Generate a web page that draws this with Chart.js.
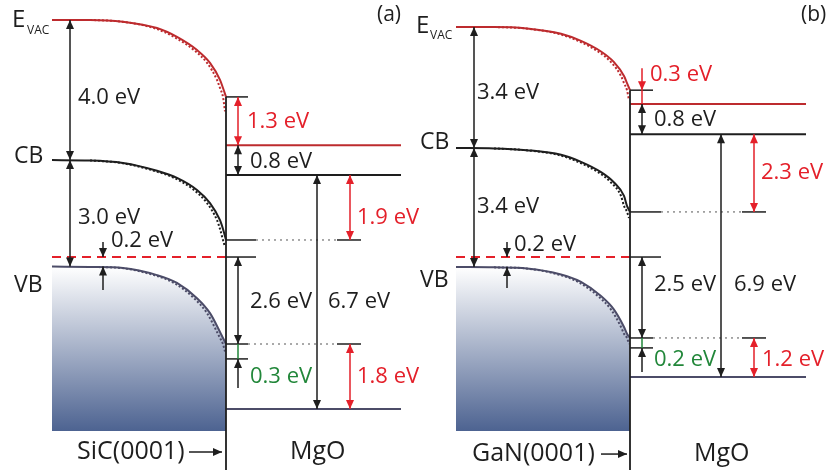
<!DOCTYPE html>
<html>
<head>
<meta charset="utf-8">
<script src="https://cdn.jsdelivr.net/npm/chart.js@4.4.1/dist/chart.umd.min.js"></script>
<style>
    html, body { margin: 0; padding: 0; background: #fff; }
    #wrap { position: relative; width: 828px; height: 475px; }
    canvas { position: absolute; top: 0; }
    #panelA { left: 0; }
    #panelB { left: 414px; }
</style>
</head>
<body>
<div id="wrap">
    <canvas id="panelA" width="430" height="475"></canvas>
    <canvas id="panelB" width="414" height="475"></canvas>
</div>
<script>
// energies in eV, Fermi level = 0

// (a) SiC(0001) / MgO
const bendXA   = [52, 90, 123, 157, 177, 197, 210, 220, 223, 226];
const evacA    = [6.68, 6.68, 6.63, 6.45, 6.20, 5.83, 5.47, 4.99, 4.76, 4.51];
const cbA      = [2.73, 2.72, 2.65, 2.43, 2.23, 1.89, 1.52, 1.04, 0.79, 0.48];
const vbA      = [-0.27, -0.28, -0.31, -0.51, -0.73, -1.16, -1.58, -2.11, -2.28, -2.45];
const dotXA    = [90, 121, 154, 174, 194, 207, 217, 220, 223, 225];
const evacDotA = [6.68, 6.63, 6.45, 6.20, 5.83, 5.47, 4.99, 4.76, 4.51, 4.10];
const cbDotA   = [2.72, 2.65, 2.43, 2.23, 1.89, 1.52, 1.04, 0.79, 0.48, 0.28];
const vbDotA   = [-0.28, -0.31, -0.51, -0.73, -1.16, -1.58, -2.11, -2.28, -2.45, -2.66];
const mgoA     = [3.15, 2.31, -4.28];   // MgO vacuum level, CB, VB
const stepA    = -2.87;                 // bottom of the green step
const gapsA    = ['4.0 eV', '3.0 eV', '0.2 eV', '1.3 eV', '0.8 eV', '1.9 eV', '2.6 eV', '6.7 eV', '0.3 eV', '1.8 eV'];

// (b) GaN(0001) / MgO
const bendXB   = [42, 80, 113, 147, 167, 187, 200, 210, 213, 216];
const evacB    = [6.48, 6.48, 6.44, 6.29, 6.09, 5.79, 5.49, 5.10, 4.90, 4.70];
const cbB      = [3.07, 3.06, 3.01, 2.88, 2.68, 2.39, 2.10, 1.72, 1.44, 1.27];
const vbB      = [-0.28, -0.29, -0.32, -0.49, -0.70, -1.10, -1.48, -1.97, -2.16, -2.28];
const dotXB    = [80, 111, 144, 164, 184, 197, 207, 210, 213, 215];
const evacDotB = [6.48, 6.44, 6.29, 6.09, 5.79, 5.49, 5.10, 4.90, 4.70, 4.42];
const cbDotB   = [3.06, 3.01, 2.88, 2.68, 2.39, 2.10, 1.72, 1.44, 1.27, 1.10];
const vbDotB   = [-0.29, -0.32, -0.49, -0.70, -1.10, -1.48, -1.97, -2.16, -2.28, -2.45];
const mgoB     = [4.31, 3.46, -3.38];
const stepB    = -2.56;
const gapsB    = ['3.4 eV', '3.4 eV', '0.2 eV', '0.3 eV', '0.8 eV', '2.3 eV', '2.5 eV', '6.9 eV', '0.2 eV', '1.2 eV'];

const substrates = ['SiC(0001)', 'GaN(0001)'];
const tags = ['(a)', '(b)'];

// ---- style ----
const E_TOP = 7.24, E_BOTTOM = -6.14;
const DARK_RED = '#bd2b2e', RED = '#e4202a', BLACK = '#1e1e1e', SLATE = '#4c4c68', GREEN = '#22873a', GRAY = '#555';
const FONT = '"Open Sans", "DejaVu Sans", sans-serif';
const gapColors = [BLACK, BLACK, BLACK, RED, BLACK, RED, BLACK, BLACK, GREEN, RED];

function seg(x0, e0, x1, e1, color, width, extra) {
    return Object.assign({
        data: [{ x: x0, y: e0 }, { x: x1, y: e1 }],
        borderColor: color, borderWidth: width, borderCapStyle: 'butt',
        pointRadius: 0, fill: false, clip: false
    }, extra);
}

function curve(xs, es, color, width, extra) {
    return Object.assign({
        data: xs.map((x, i) => ({ x: x, y: es[i] })),
        borderColor: color, borderWidth: width,
        pointRadius: 0, fill: false, clip: false, cubicInterpolationMode: 'monotone'
    }, extra);
}

function arrow(x0, e0, x1, e1, color, heads) {
    return seg(x0, e0, x1, e1, color, 1.5, { arrowHeads: heads });
}

// filled heads at the ends of datasets flagged with arrowHeads
const arrowHeads = {
    id: 'arrowHeads',
    afterDatasetsDraw(chart) {
        const c = chart.ctx;
        chart.data.datasets.forEach((ds, i) => {
            if (!ds.arrowHeads) return;
            const pts = chart.getDatasetMeta(i).data;
            const a = pts[0], b = pts[pts.length - 1];
            const head = (tip, from) => {
                const ang = Math.atan2(tip.y - from.y, tip.x - from.x);
                c.save();
                c.translate(tip.x, tip.y);
                c.rotate(ang);
                c.beginPath();
                c.moveTo(0, 0);
                c.lineTo(-9, -4);
                c.lineTo(-9, 4);
                c.closePath();
                c.fillStyle = ds.borderColor;
                c.fill();
                c.restore();
            };
            if (ds.arrowHeads !== 'start') head(b, a);
            if (ds.arrowHeads !== 'end') head(a, b);
        });
    }
};

const textLabels = {
    id: 'textLabels',
    afterDatasetsDraw(chart, args, opts) {
        const c = chart.ctx, sx = chart.scales.x, sy = chart.scales.y;
        c.save();
        c.textAlign = 'left';
        c.textBaseline = 'middle';
        (opts.items || []).forEach(t => {
            c.font = (t.size || 22) + 'px ' + FONT;
            c.fillStyle = t.color || BLACK;
            c.fillText(t.text, sx.getPixelForValue(t.x), sy.getPixelForValue(t.e));
        });
        c.restore();
    }
};

function makePanel(id, P, L) {
    const n = P.evac.length - 1;
    const evacS = P.evac[n], cbS = P.cb[n], vbS = P.vb[n];
    const vacM = P.mgo[0], cbM = P.mgo[1], vbM = P.mgo[2];
    const dots = { borderDash: [2, 2] };
    const ds = [];   // bottom to top

    // valence band with the shaded bulk below it
    ds.push(curve(P.x, P.vb, SLATE, 2, {
        fill: { value: L.fillBottom },
        backgroundColor: (ctx) => {
            const chart = ctx.chart, sy = chart.scales.y;
            if (!sy) return 'rgba(77,99,145,0.5)';
            const y0 = sy.getPixelForValue(P.vb[0]), y1 = sy.getPixelForValue(L.fillBottom);
            if (!isFinite(y0) || !isFinite(y1)) return 'rgba(77,99,145,0.5)';
            const g = chart.ctx.createLinearGradient(0, y0, 0, y1);
            g.addColorStop(0, '#ffffff');
            g.addColorStop(1, '#4d6391');
            return g;
        }
    }));
    ds.push(curve(P.dotX, P.vbDot, SLATE, 2, dots));
    ds.push(curve(P.x, P.evac, DARK_RED, 2));
    ds.push(curve(P.dotX, P.evacDot, DARK_RED, 2, dots));
    ds.push(curve(P.x, P.cb, BLACK, 2));
    ds.push(curve(P.dotX, P.cbDot, BLACK, 2, dots));

    // Fermi level
    ds.push(seg(L.x0, 0, L.xi, 0, RED, 2, { borderDash: [9, 6] }));

    // MgO levels
    ds.push(seg(L.xi, vacM, L.xe, vacM, DARK_RED, 2));
    ds.push(seg(L.xi, cbM, L.xe, cbM, BLACK, 2));
    ds.push(seg(L.xi, vbM, L.xe, vbM, SLATE, 2));

    // short ticks at the interface
    ds.push(seg(L.xi, evacS, L.tickS, evacS, BLACK, 1.5));
    ds.push(seg(L.xi, 0, L.tickL, 0, BLACK, 1.5));
    ds.push(seg(L.xi, cbS, L.tickL, cbS, BLACK, 1.5));
    ds.push(seg(L.tickL, cbS, L.dotS, cbS, GRAY, 1, { borderDash: [2, 4] }));
    ds.push(seg(L.dotS, cbS, L.dotE, cbS, BLACK, 1.5));
    ds.push(seg(L.xi, vbS, L.tickS, vbS, BLACK, 1.5));
    ds.push(seg(L.tickS, vbS, L.dotS, vbS, GRAY, 1, { borderDash: [2, 4] }));
    ds.push(seg(L.dotS, vbS, L.dotE, vbS, BLACK, 1.5));
    ds.push(seg(L.xi, P.step, L.tickS, P.step, BLACK, 1.5));
    ds.push(seg(L.xIf, vbS, L.xIf, P.step, GREEN, 1.5));

    // interface
    ds.push(seg(L.xi, evacS, L.xi, L.ifBottom, BLACK, 1.8));

    // arrows
    ds.push(arrow(L.xBig, P.evac[0], L.xBig, P.cb[0], BLACK, 'both'));
    ds.push(arrow(L.xBig, P.cb[0], L.xBig, P.vb[0], BLACK, 'both'));
    ds.push(arrow(L.xSmall, L.stubTop, L.xSmall, 0, BLACK, 'end'));
    ds.push(arrow(L.xSmall, L.stubBottom, L.xSmall, P.vb[0], BLACK, 'end'));
    if (L.vacTail !== undefined) {
        ds.push(arrow(L.xIf, L.vacTail, L.xIf, evacS, RED, 'end'));
        ds.push(seg(L.xIf, evacS, L.xIf, vacM, RED, 1.5));
    } else {
        ds.push(arrow(L.xIf, evacS, L.xIf, vacM, RED, 'both'));
    }
    ds.push(arrow(L.xIf, vacM, L.xIf, cbM, BLACK, 'both'));
    ds.push(arrow(L.xRed, cbM, L.xRed, cbS, RED, 'both'));
    ds.push(arrow(L.xIf, 0, L.xIf, vbS, BLACK, 'both'));
    ds.push(arrow(L.xGap, cbM, L.xGap, vbM, BLACK, 'both'));
    ds.push(arrow(L.xIf, L.upTail, L.xIf, P.step, BLACK, 'end'));
    ds.push(arrow(L.xRed, vbS, L.xRed, vbM, RED, 'both'));
    ds.push(arrow(L.subArrow[0], L.bottomRow, L.subArrow[1], L.bottomRow, BLACK, 'end'));

    const items = P.gaps.map((t, i) => ({ text: t, x: L.gapPos[i][0], e: L.gapPos[i][1], color: gapColors[i] }));
    items.push({ text: 'E', x: L.eLabel[0], e: L.eLabel[1], size: 24 });
    items.push({ text: 'VAC', x: L.vacLabel[0], e: L.vacLabel[1], size: 12 });
    items.push({ text: 'CB', x: L.cbLabel[0], e: L.cbLabel[1], size: 23 });
    items.push({ text: 'VB', x: L.vbLabel[0], e: L.vbLabel[1], size: 23 });
    items.push({ text: P.substrate, x: L.subX, e: L.bottomRow, size: 25 });
    items.push({ text: 'MgO', x: L.mgoX, e: L.bottomRow, size: 25 });
    items.push({ text: P.tag, x: L.tagX, e: 6.82, size: 21 });

    new Chart(document.getElementById(id), {
        type: 'line',
        data: { datasets: ds.reverse() },
        options: {
            responsive: false,
            animation: false,
            events: [],
            layout: { padding: 0 },
            scales: {
                x: { type: 'linear', min: 0, max: L.width, display: false },
                y: { type: 'linear', min: E_BOTTOM, max: E_TOP, display: false }
            },
            plugins: {
                legend: { display: false },
                tooltip: { enabled: false },
                textLabels: { items: items }
            }
        },
        plugins: [arrowHeads, textLabels]
    });
}

makePanel('panelA', {
    x: bendXA, evac: evacA, cb: cbA, vb: vbA,
    dotX: dotXA, evacDot: evacDotA, cbDot: cbDotA, vbDot: vbDotA,
    mgo: mgoA, step: stepA, gaps: gapsA, substrate: substrates[0], tag: tags[0]
}, {
    width: 430,
    x0: 52, xi: 226, xe: 401, xBig: 70, xSmall: 103, xIf: 238, xGap: 317, xRed: 350,
    tickS: 248, tickL: 256, dotS: 337, dotE: 361,
    fillBottom: -4.90, ifBottom: -6.0, stubTop: 0.42, stubBottom: -0.93, upTail: -3.69,
    gapPos: [[78, 4.48], [78, 1.10], [111, 0.45], [247, 3.80], [250, 2.68], [357, 1.10],
             [250, -1.27], [328, -1.27], [250, -3.38], [357, -3.38]],
    eLabel: [12, 6.66], vacLabel: [27, 6.39], cbLabel: [14, 2.82], vbLabel: [14, -0.79],
    subX: 77, subArrow: [189, 222], mgoX: 290, bottomRow: -5.49, tagX: 377
});

makePanel('panelB', {
    x: bendXB, evac: evacB, cb: cbB, vb: vbB,
    dotX: dotXB, evacDot: evacDotB, cbDot: cbDotB, vbDot: vbDotB,
    mgo: mgoB, step: stepB, gaps: gapsB, substrate: substrates[1], tag: tags[1]
}, {
    width: 414,
    x0: 42, xi: 216, xe: 392, xBig: 60, xSmall: 93, xIf: 228, xGap: 307, xRed: 340,
    tickS: 239, tickL: 247, dotS: 328, dotE: 352, vacTail: 5.32,
    fillBottom: -4.90, ifBottom: -6.0, stubTop: 0.42, stubBottom: -0.87, upTail: -3.24,
    gapPos: [[63, 4.62], [63, 1.41], [100, 0.34], [236, 5.13], [240, 3.86], [347, 2.37],
             [240, -0.79], [320, -0.79], [240, -2.90], [348, -2.90]],
    eLabel: [2, 6.51], vacLabel: [16, 6.23], cbLabel: [6, 3.24], vbLabel: [6, -0.65],
    subX: 58, subArrow: [187, 213], mgoX: 280, bottomRow: -5.55, tagX: 387
});
</script>
</body>
</html>
